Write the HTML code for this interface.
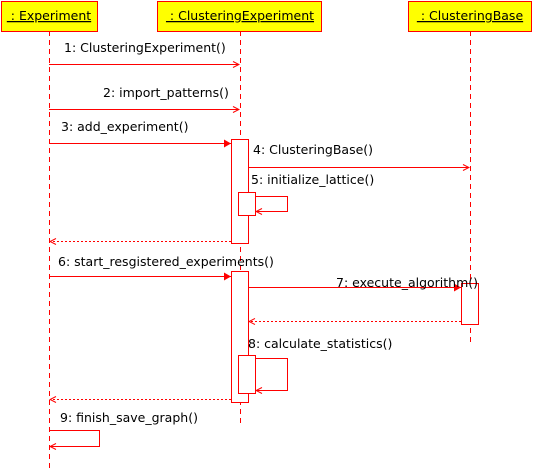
<!DOCTYPE html>
<html><head><style>
html,body{margin:0;padding:0;background:#fff;width:533px;height:470px;overflow:hidden}
text{font-family:"DejaVu Sans","Liberation Sans",sans-serif;font-size:12.5px;fill:#000}
</style></head><body>
<svg width="533" height="470" viewBox="0 0 533 470" xmlns="http://www.w3.org/2000/svg">
<defs>
<marker id="op" markerWidth="8" markerHeight="8" refX="7" refY="4" orient="auto" markerUnits="userSpaceOnUse"><path d="M1,1 L7,4 L1,7" fill="none" stroke="red" stroke-width="1"/></marker>
<marker id="fl" markerWidth="8" markerHeight="8" refX="7" refY="4" orient="auto" markerUnits="userSpaceOnUse"><path d="M0,0 L7,4 L0,8 z" fill="red"/></marker>
</defs>
<g stroke="red" fill="none" stroke-width="1">
<line x1="49.5" y1="31" x2="49.5" y2="470" stroke-dasharray="5,4"/>
<line x1="240.5" y1="31" x2="240.5" y2="424" stroke-dasharray="5,4"/>
<line x1="470.5" y1="31" x2="470.5" y2="344" stroke-dasharray="5,4"/>
</g>
<g fill="#ffff00" stroke="#ff0000" stroke-width="1">
<rect x="1.5" y="1.5" width="96" height="30"/>
<rect x="157.5" y="1.5" width="164" height="30"/>
<rect x="408.5" y="1.5" width="123" height="30"/>
</g>
<text x="49" y="20" text-anchor="middle" text-decoration="underline">&#160;: Experiment</text>
<text x="240" y="20" text-anchor="middle" text-decoration="underline">&#160;: ClusteringExperiment</text>
<text x="470" y="20" text-anchor="middle" text-decoration="underline">&#160;: ClusteringBase</text>
<g stroke="red" fill="#fff" stroke-width="1">
<rect x="231.5" y="139.5" width="17" height="104"/>
<rect x="238.5" y="192.5" width="17" height="23"/>
<rect x="231.5" y="271.5" width="17" height="131"/>
<rect x="238.5" y="355.5" width="17" height="38"/>
<rect x="461.5" y="283.5" width="17" height="41"/>
</g>
<g stroke="red" fill="none" stroke-width="1">
<line x1="49" y1="64.5" x2="239" y2="64.5" marker-end="url(#op)"/>
<line x1="49" y1="109.5" x2="239" y2="109.5" marker-end="url(#op)"/>
<line x1="49" y1="143.5" x2="231" y2="143.5" marker-end="url(#fl)"/>
<line x1="248" y1="167.5" x2="469" y2="167.5" marker-end="url(#op)"/>
<polyline points="255,196.5 287.5,196.5 287.5,211.5 256,211.5" marker-end="url(#op)"/>
<line x1="231" y1="241.5" x2="50" y2="241.5" stroke-dasharray="2,2" marker-end="url(#op)"/>
<line x1="49" y1="276.5" x2="231" y2="276.5" marker-end="url(#fl)"/>
<line x1="248" y1="287.5" x2="461" y2="287.5" marker-end="url(#fl)"/>
<line x1="461" y1="321.5" x2="249" y2="321.5" stroke-dasharray="2,2" marker-end="url(#op)"/>
<polyline points="255,358.5 287.5,358.5 287.5,390.5 256,390.5" marker-end="url(#op)"/>
<line x1="231" y1="399.5" x2="50" y2="399.5" stroke-dasharray="2,2" marker-end="url(#op)"/>
<polyline points="49,430.5 99.5,430.5 99.5,446.5 50,446.5" marker-end="url(#op)"/>
</g>
<text x="64" y="52">1: ClusteringExperiment()</text>
<text x="103" y="97">2: import_patterns()</text>
<text x="61" y="131">3: add_experiment()</text>
<text x="253" y="154">4: ClusteringBase()</text>
<text x="251" y="184">5: initialize_lattice()</text>
<text x="58" y="266">6: start_resgistered_experiments()</text>
<text x="336" y="287">7: execute_algorithm()</text>
<text x="248" y="348">8: calculate_statistics()</text>
<text x="60" y="422">9: finish_save_graph()</text>
</svg>
</body></html>
